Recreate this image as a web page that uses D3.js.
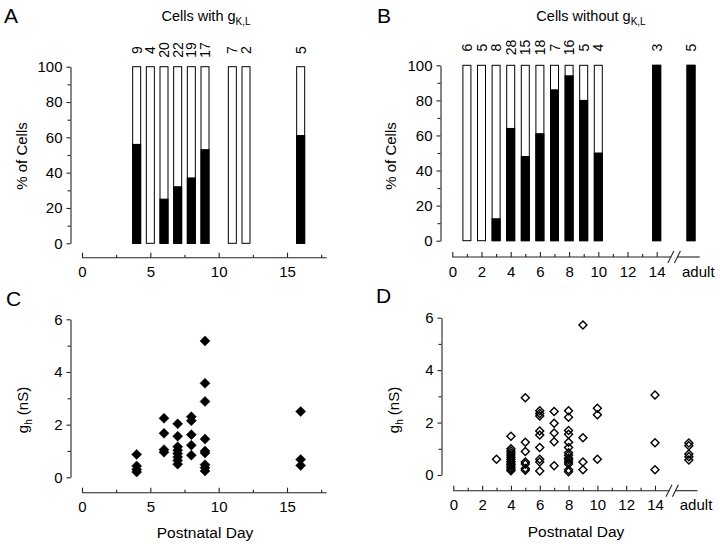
<!DOCTYPE html>
<html><head><meta charset="utf-8">
<script src="https://cdn.jsdelivr.net/npm/d3@7"></script>
<style>
body{margin:0;background:#fff}
svg text{font-family:"Liberation Sans",Arial,Helvetica,sans-serif;fill:#000}
</style>
</head><body>
<svg id="c" width="720" height="544"></svg>
<script>
// ---------- data ----------
const daysA = [4, 5, 6, 7, 8, 9, 11, 12, 16];
const pctA = [56, 0, 25, 32, 37, 53, 0, 0, 61];
const countsA = [9, 4, 20, 22, 19, 17, 7, 2, 5];

const daysB = [1, 2, 3, 4, 5, 6, 7, 8, 9, 10, 14, "adult"];
const pctB = [0, 0, 12.5, 64, 48, 61, 86, 94, 80, 50, 100, 100];
const countsB = [6, 5, 8, 28, 15, 18, 7, 16, 5, 4, 3, 5];

const pctTicks = [0, 20, 40, 60, 80, 100];
const pctMinor = [10, 30, 50, 70, 90];
const ghTicks = [0, 2, 4, 6];
const ghMinor = [1, 3, 5];
const dayTicksA = [0, 5, 10, 15];
const dayMinorA = [2.5, 7.5, 12.5, 17.5];
const dayTicksB = [0, 2, 4, 6, 8, 10, 12, 14];
const dayMinorB = [1, 3, 5, 7, 9, 11, 13];

const scatterDaysC = [4, 6, 7, 8, 9, 16];
const scatterGhC = [
  [0.87, 0.43, 0.3, 0.2],
  [2.24, 1.67, 1.05, 0.95],
  [2.03, 1.56, 1.16, 1.03, 0.9, 0.77, 0.64, 0.5],
  [2.3, 2.15, 1.62, 1.22, 0.84],
  [5.18, 3.57, 2.88, 1.45, 1.0, 0.92, 0.48, 0.36, 0.24],
  [2.5, 0.68, 0.45]
];
const scatterDaysD = [3, 4, 5, 6, 7, 8, 9, 10, 14, "adult"];
const scatterGhD = [
  [0.6],
  [1.48, 1.0, 0.92, 0.84, 0.76, 0.68, 0.6, 0.52, 0.46, 0.4, 0.34, 0.28, 0.22, 0.16],
  [2.95, 1.25, 0.9, 0.5, 0.42, 0.25, 0.18],
  [2.45, 2.35, 2.25, 1.68, 1.53, 1.05, 0.6, 0.5, 0.15],
  [2.42, 1.97, 1.6, 1.27, 0.35],
  [2.45, 2.2, 1.7, 1.55, 1.25, 1.05, 0.85, 0.75, 0.65, 0.58, 0.5, 0.42, 0.2, 0.12],
  [5.72, 1.42, 0.5, 0.2],
  [2.55, 2.3, 0.6],
  [3.05, 1.23, 0.2],
  [1.22, 1.12, 0.8, 0.7, 0.57]
];

// ---------- layout ----------
const ADULT_POS = 16.35, ADULT_LABEL_POS = 16.85;
const BREAK_START = 15.0, BREAK_END = 15.45, AXIS_END_B = 16.95, AXIS_END_A = 17.9;
const FONT = 15;
const AXIS_COLOR = "#222";

const svg = d3.select("#c");
const pos = d => d === "adult" ? ADULT_POS : d;

function styleAxis(g) {
  g.selectAll("path,line").attr("stroke", AXIS_COLOR).attr("stroke-width", 1.1);
  g.selectAll("text").attr("font-size", FONT).attr("font-family", '"Liberation Sans",Arial,sans-serif').attr("fill", "#000");
  g.attr("font-family", null).attr("font-size", null);
}

function yAxis(scale, x, major, minor) {
  const g = svg.append("g").attr("transform", `translate(${x},0)`)
    .call(d3.axisLeft(scale).tickValues(major).tickSize(4).tickSizeOuter(0).tickPadding(4).tickFormat(d3.format("d")));
  styleAxis(g);
  const gm = svg.append("g").attr("transform", `translate(${x},0)`)
    .call(d3.axisLeft(scale).tickValues(minor).tickSize(3).tickFormat(""));
  gm.select(".domain").remove();
  styleAxis(gm);
}

function xAxis(scale, y, major, minor, endPos, broken) {
  const g = svg.append("g").attr("transform", `translate(0,${y})`)
    .call(d3.axisBottom(scale).tickValues(major).tickSize(-5).tickSizeOuter(0).tickPadding(9).tickFormat(d3.format("d")));
  g.select(".domain").remove();
  styleAxis(g);
  const gm = svg.append("g").attr("transform", `translate(0,${y})`)
    .call(d3.axisBottom(scale).tickValues(minor).tickSize(-3).tickFormat(""));
  gm.select(".domain").remove();
  styleAxis(gm);
  const line = (a, b) => svg.append("line").attr("x1", scale(a)).attr("x2", scale(b))
    .attr("y1", y).attr("y2", y).attr("stroke", AXIS_COLOR).attr("stroke-width", 1.1);
  if (broken) {
    line(0, BREAK_START); line(BREAK_END, endPos);
    [BREAK_START - 0.1, BREAK_END - 0.1].forEach(p => {
      svg.append("line").attr("x1", scale(p) - 2).attr("y1", y + 6)
        .attr("x2", scale(p) + 4).attr("y2", y - 6)
        .attr("stroke", AXIS_COLOR).attr("stroke-width", 1.1);
    });
    svg.append("text").attr("x", scale(ADULT_LABEL_POS)).attr("y", y + 9).attr("dy", "0.71em")
      .attr("text-anchor", "middle").attr("font-size", FONT).text("adult");
  } else {
    line(0, endPos);
  }
}

function bars(xs, ys, days, pct, counts, labelY) {
  const w = 8;
  const g = svg.append("g");
  days.forEach((d, i) => {
    const cx = xs(pos(d));
    g.append("rect").attr("x", cx - w / 2).attr("y", ys(100)).attr("width", w)
      .attr("height", ys(0) - ys(100)).attr("fill", "#fff").attr("stroke", "#000").attr("stroke-width", 1);
    if (pct[i] > 0) {
      g.append("rect").attr("x", cx - w / 2).attr("y", ys(pct[i])).attr("width", w)
        .attr("height", ys(0) - ys(pct[i])).attr("fill", "#000").attr("stroke", "#000").attr("stroke-width", 1);
    }
    g.append("text").attr("transform", `translate(${cx},${labelY}) rotate(-90)`)
      .attr("text-anchor", "middle").attr("dominant-baseline", "central")
      .attr("font-size", 14).text(counts[i]);
  });
}

function scatter(xs, ys, days, vals, filled) {
  const sym = d3.symbol().type(d3.symbolSquare).size(filled ? 50 : 32);
  const g = svg.append("g");
  days.forEach((d, i) => {
    vals[i].forEach(v => {
      g.append("path").attr("d", sym)
        .attr("transform", `translate(${xs(pos(d))},${ys(v)}) rotate(45)`)
        .attr("fill", filled ? "#000" : "none")
        .attr("stroke", "#000").attr("stroke-width", filled ? 0.5 : 1.4);
    });
  });
}

function title(x, y, main, sub) {
  const t = svg.append("text").attr("x", x).attr("y", y).attr("text-anchor", "middle").attr("font-size", 14.5);
  t.append("tspan").text(main);
  t.append("tspan").attr("dy", 4).attr("font-size", 10).text(sub);
}
function letter(x, y, s) {
  svg.append("text").attr("x", x).attr("y", y).attr("font-size", 21).text(s);
}
function yLabel(x, y, main, sub, rest) {
  const t = svg.append("text").attr("transform", `translate(${x},${y}) rotate(-90)`)
    .attr("text-anchor", "middle").attr("font-size", FONT);
  t.append("tspan").text(main);
  if (sub) {
    t.append("tspan").attr("dy", 4).attr("font-size", 10).text(sub);
    t.append("tspan").attr("dy", -4).text(rest);
  }
}

// ---------- scales ----------
const xA = d3.scaleLinear().domain([0, 15]).range([82, 287]);
const yA = d3.scaleLinear().domain([0, 100]).range([243.3, 66.7]);
const xB = d3.scaleLinear().domain([0, 14]).range([452.3, 656.7]);
const yB = d3.scaleLinear().domain([0, 100]).range([240.7, 65.3]);
const xC = d3.scaleLinear().domain([0, 15]).range([82, 287]);
const yC = d3.scaleLinear().domain([0, 6]).range([477.3, 319.3]);
const xD = d3.scaleLinear().domain([0, 14]).range([453.3, 655]);
const yD = d3.scaleLinear().domain([0, 6]).range([475, 317.7]);

// ---------- Panel A ----------
letter(4, 23, "A");
title(206, 21, "Cells with g", "K,L");
yAxis(yA, 70.5, pctTicks, pctMinor);
xAxis(xA, 257.7, dayTicksA, dayMinorA, AXIS_END_A, false);
bars(xA, yA, daysA, pctA, countsA, 50);
yLabel(27, 156, "% of Cells");

// ---------- Panel B ----------
letter(377, 23, "B");
title(591, 21, "Cells without g", "K,L");
yAxis(yB, 440.5, pctTicks, pctMinor);
xAxis(xB, 257, dayTicksB, dayMinorB, AXIS_END_B, true);
bars(xB, yB, daysB, pctB, countsB, 47.5);
yLabel(396, 156, "% of Cells");

// ---------- Panel C ----------
letter(6, 306, "C");
yAxis(yC, 70.5, ghTicks, ghMinor);
xAxis(xC, 492.7, dayTicksA, dayMinorA, AXIS_END_A, false);
scatter(xC, yC, scatterDaysC, scatterGhC, true);
yLabel(28, 410, "g", "h", " (nS)");
svg.append("text").attr("x", 205).attr("y", 538).attr("text-anchor", "middle").attr("font-size", 15.5).text("Postnatal Day");

// ---------- Panel D ----------
letter(376, 303, "D");
yAxis(yD, 441.5, ghTicks, ghMinor);
xAxis(xD, 490.7, dayTicksB, dayMinorB, AXIS_END_B, true);
scatter(xD, yD, scatterDaysD, scatterGhD, false);
yLabel(399, 410, "g", "h", " (nS)");
svg.append("text").attr("x", 576).attr("y", 537).attr("text-anchor", "middle").attr("font-size", 15.5).text("Postnatal Day");
</script>
</body></html>
